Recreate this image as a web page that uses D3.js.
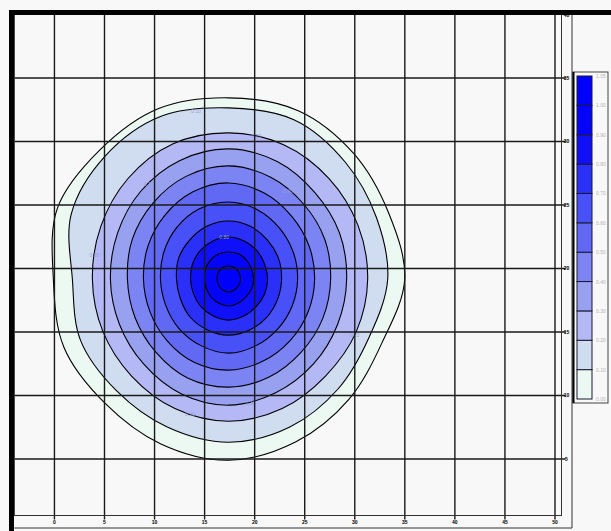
<!DOCTYPE html>
<html>
<head>
<meta charset="utf-8">
<script src="https://cdn.jsdelivr.net/npm/d3@7/dist/d3.min.js"></script>
<style>
    body { margin: 0; background: #f8f8f8; }
    svg { display: block; font-family: "Liberation Sans", Arial, sans-serif; }
</style>
</head>
<body>
<svg id="chart" width="611" height="531"></svg>
<script>

// contour levels, outermost ring first
const levels = [0.00, 0.10, 0.20, 0.30, 0.40, 0.50, 0.60, 0.70, 0.80, 0.90, 1.00];
const legendLabels = ["1.05", "1.00", "0.90", "0.80", "0.70", "0.60", "0.50", "0.40", "0.30", "0.20", "0.10", "0.00"];
const xTicks = [0, 5, 10, 15, 20, 25, 30, 35, 40, 45, 50];
const yTicks = [5, 10, 15, 20, 25, 30, 35, 40];

// peak location (data units) and ray directions (degrees, 0 = right, counter-clockwise)
const peak = [17.39, 19.17];
const rayAngles = [0, 22.5, 45, 67.5, 90, 112.5, 135, 157.5, 180, 202.5, 225, 247.5, 270, 292.5, 315, 337.5];

// distance from the peak to each contour along every ray, in x units
const ring00 = [17.6, 17.3, 17.7, 18.2, 18.1, 18.4, 18.2, 18.5, 17.5, 17.8, 17.5, 17.8, 18.1, 17.6, 17.0, 16.6];
const ring10 = [15.9, 16.0, 16.5, 17.2, 17.1, 17.6, 17.4, 17.0, 15.6, 16.0, 15.8, 16.0, 16.3, 16.0, 15.5, 15.2];
const ring20 = [13.9, 14.0, 14.2, 14.5, 14.6, 14.6, 14.2, 13.8, 13.6, 13.6, 13.7, 14.0, 14.2, 14.0, 13.7, 13.8];
const ring30 = [11.8, 12.0, 12.2, 12.7, 13.0, 12.8, 12.4, 12.0, 11.8, 11.8, 12.0, 12.4, 12.6, 12.3, 12.0, 11.8];
const ring40 = [10.2, 10.4, 10.6, 11.0, 11.3, 11.1, 10.7, 10.4, 10.1, 10.1, 10.3, 10.7, 10.8, 10.6, 10.3, 10.2];
const ring50 = [8.6, 8.7, 8.9, 9.3, 9.6, 9.4, 9.0, 8.7, 8.5, 8.5, 8.7, 9.0, 9.1, 8.9, 8.7, 8.6];
const ring60 = [6.9, 7.0, 7.2, 7.5, 7.7, 7.6, 7.3, 7.0, 6.8, 6.8, 7.0, 7.2, 7.4, 7.2, 7.0, 6.9];
const ring70 = [5.3, 5.4, 5.5, 5.7, 5.8, 5.7, 5.5, 5.4, 5.2, 5.2, 5.4, 5.5, 5.6, 5.5, 5.4, 5.3];
const ring80 = [3.9, 3.9, 4.0, 4.1, 4.2, 4.1, 4.0, 3.9, 3.8, 3.8, 3.9, 4.0, 4.1, 4.0, 3.9, 3.9];
const ring90 = [2.5, 2.5, 2.6, 2.7, 2.7, 2.7, 2.6, 2.5, 2.4, 2.4, 2.5, 2.6, 2.7, 2.6, 2.5, 2.5];
const ring100 = [1.2, 1.2, 1.25, 1.3, 1.3, 1.3, 1.25, 1.2, 1.15, 1.15, 1.2, 1.25, 1.3, 1.25, 1.2, 1.2];

// inline value labels: which ring and at what angle
const labelRings = [1, 2, 3, 4, 2, 2, 8, 3, 2];
const labelAngles = [101, 79, 130, 56, 170, 336, 96, 280, 254];

// fill colour of each band, lowest first
const bandColors = ["#ecf8f2", "#d0dcf0", "#b4b8f4", "#98a0f0", "#7c84f4", "#6068f4",
    "#4850f8", "#2a30f8", "#1010f8", "#0404f8", "#0000ff"];


class ContourChart {

    constructor(parentElement) {
        this.parentElement = parentElement;
        this.rings = [ring00, ring10, ring20, ring30, ring40, ring50, ring60, ring70, ring80, ring90, ring100];
        this.initVis();
    }

    initVis() {
        let vis = this;

        vis.svg = d3.select("#" + vis.parentElement);

        vis.plot = { left: 14.4, top: 14.5, right: 561.5, bottom: 515.5 };

        vis.xScale = d3.scaleLinear()
            .domain([-4, 50.65])
            .range([vis.plot.left, vis.plot.right]);

        vis.yScale = d3.scaleLinear()
            .domain([0.55, 40])
            .range([vis.plot.bottom, vis.plot.top]);

        vis.svg.append("rect")
            .attr("width", 611)
            .attr("height", 531)
            .attr("fill", "#f8f8f8");

        vis.svg.append("clipPath")
            .attr("id", "plot-clip")
            .append("rect")
            .attr("x", vis.plot.left)
            .attr("y", vis.plot.top)
            .attr("width", vis.plot.right - vis.plot.left)
            .attr("height", vis.plot.bottom - vis.plot.top);

        vis.contourGroup = vis.svg.append("g").attr("clip-path", "url(#plot-clip)");
        vis.gridGroup = vis.svg.append("g");
        vis.axisGroup = vis.svg.append("g");
        vis.legendGroup = vis.svg.append("g");

        vis.wrangleData();
    }

    wrangleData() {
        let vis = this;

        let cx = vis.xScale(peak[0]);
        let cy = vis.yScale(peak[1]);

        // turn each ring's radii into pixel points
        vis.displayData = vis.rings.map((radii, i) => ({
            level: levels[i],
            color: bandColors[i],
            points: radii.map((r, j) => {
                let pr = vis.xScale(peak[0] + r) - cx;
                let a = rayAngles[j] * Math.PI / 180;
                return [cx + pr * Math.cos(a), cy - pr * Math.sin(a)];
            })
        }));

        vis.labelData = labelRings.map((ri, k) => {
            let radii = vis.rings[ri];
            let idx = d3.minIndex(rayAngles, a => Math.abs(a - labelAngles[k]));
            let pr = vis.xScale(peak[0] + radii[idx]) - cx;
            let a = labelAngles[k] * Math.PI / 180;
            return { x: cx + pr * Math.cos(a), y: cy - pr * Math.sin(a), text: levels[ri].toFixed(2) };
        });

        vis.updateVis();
    }

    updateVis() {
        let vis = this;

        let line = d3.line().curve(d3.curveCatmullRomClosed.alpha(0.5));

        // filled contour bands, outer first
        vis.contourGroup.selectAll(".band")
            .data(vis.displayData)
            .join("path")
            .attr("class", "band")
            .attr("d", d => line(d.points))
            .attr("fill", d => d.color)
            .attr("stroke", "#000")
            .attr("stroke-width", 1.1);

        vis.contourGroup.selectAll(".clabel")
            .data(vis.labelData)
            .join("text")
            .attr("class", "clabel")
            .attr("x", d => d.x)
            .attr("y", d => d.y + 2)
            .attr("text-anchor", "middle")
            .style("font-size", "5px")
            .style("fill", "#9aa0d4")
            .text(d => d.text);

        // grid lines, drawn over the fill
        vis.gridGroup.selectAll(".vgrid")
            .data(xTicks)
            .join("line")
            .attr("class", "vgrid")
            .attr("x1", d => vis.xScale(d))
            .attr("x2", d => vis.xScale(d))
            .attr("y1", vis.plot.top)
            .attr("y2", vis.plot.bottom + 4)
            .attr("stroke", "#1a1a1a")
            .attr("stroke-width", 1.4);

        vis.gridGroup.selectAll(".hgrid")
            .data(yTicks.filter(d => d < 40))
            .join("line")
            .attr("class", "hgrid")
            .attr("x1", vis.plot.left)
            .attr("x2", vis.plot.right + 4)
            .attr("y1", d => vis.yScale(d))
            .attr("y2", d => vis.yScale(d))
            .attr("stroke", "#1a1a1a")
            .attr("stroke-width", 1.4);

        // frames
        vis.axisGroup.append("rect")
            .attr("x", vis.plot.left)
            .attr("y", vis.plot.top)
            .attr("width", vis.plot.right - vis.plot.left)
            .attr("height", vis.plot.bottom - vis.plot.top)
            .attr("fill", "none")
            .attr("stroke", "#333")
            .attr("stroke-width", 1);

        vis.axisGroup.append("polyline")
            .attr("points", `${vis.plot.left},528 572,528 572,${vis.plot.top}`)
            .attr("fill", "none")
            .attr("stroke", "#333")
            .attr("stroke-width", 1);

        // tick labels
        vis.axisGroup.selectAll(".xlabel")
            .data(xTicks)
            .join("text")
            .attr("class", "xlabel")
            .attr("x", d => vis.xScale(d))
            .attr("y", 523.5)
            .attr("text-anchor", "middle")
            .style("font-size", "5px")
            .style("font-weight", "bold")
            .text(d => d);

        vis.axisGroup.selectAll(".ylabel")
            .data(yTicks)
            .join("text")
            .attr("class", "ylabel")
            .attr("x", 566.5)
            .attr("y", d => vis.yScale(d) + 2)
            .attr("text-anchor", "middle")
            .style("font-size", "5px")
            .style("font-weight", "bold")
            .text(d => d);

        // colour legend
        let legendScale = d3.scaleBand()
            .domain(d3.range(bandColors.length).reverse())
            .range([76, 399]);

        vis.legendGroup.append("rect")
            .attr("x", 573)
            .attr("y", 72)
            .attr("width", 35)
            .attr("height", 331)
            .attr("fill", "#f8f8f8")
            .attr("stroke", "#444")
            .attr("stroke-width", 1);

        vis.legendGroup.append("line")
            .attr("x1", 573.5).attr("x2", 573.5)
            .attr("y1", 72).attr("y2", 403)
            .attr("stroke", "#000")
            .attr("stroke-width", 2);

        vis.legendGroup.selectAll(".swatch")
            .data(bandColors)
            .join("rect")
            .attr("class", "swatch")
            .attr("x", 577)
            .attr("y", (d, i) => legendScale(i))
            .attr("width", 15)
            .attr("height", legendScale.bandwidth())
            .attr("fill", d => d)
            .attr("stroke", "#1a1a30")
            .attr("stroke-width", 1);

        vis.legendGroup.selectAll(".leglabel")
            .data(legendLabels)
            .join("text")
            .attr("class", "leglabel")
            .attr("x", 596)
            .attr("y", (d, i) => 76 + i * legendScale.bandwidth() + 2)
            .style("font-size", "5px")
            .style("fill", "#b4b4b4")
            .text(d => d);

        // heavy black edges along top and left
        vis.svg.append("rect")
            .attr("x", 9).attr("y", 10)
            .attr("width", 602).attr("height", 5)
            .attr("fill", "#000");

        vis.svg.append("rect")
            .attr("x", 9).attr("y", 10)
            .attr("width", 5).attr("height", 521)
            .attr("fill", "#000");
    }
}

new ContourChart("chart");

</script>
</body>
</html>
